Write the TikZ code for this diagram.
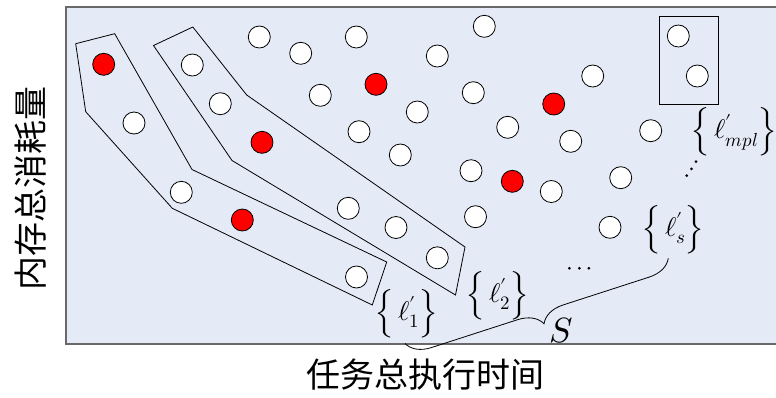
\documentclass[tikz,border=0pt]{standalone}
\usepackage{fontspec}
\usepackage{unicode-math}
\newfontfamily\cjk{Noto Sans CJK SC}
\usetikzlibrary{decorations.pathreplacing}
\definecolor{bgblue}{RGB}{228,235,246}
\definecolor{framegray}{RGB}{105,105,105}
\begin{document}
\begin{tikzpicture}[x=1pt,y=-1pt,
  wc/.style={circle,draw=black,fill=white,minimum size=22pt,inner sep=0pt,line width=0.8pt},
  rc/.style={wc,fill=red},
  grp/.style={draw=black,line width=0.8pt},
  lab/.style={inner sep=0pt,font=\fontsize{27}{32}\selectfont},
  dotc/.style={circle,fill=black,minimum size=3pt,inner sep=0pt},
  axlab/.style={inner sep=0pt,font=\cjk\fontsize{34}{36}\selectfont}]
\useasboundingbox (0,0) rectangle (776,397);
\fill[bgblue] (66,7) rectangle (780,344);
\draw[framegray,line width=1.5pt] (780,7) -- (66,7) -- (66,344) -- (780,344);
% groups
\draw[grp] (75.7,43.7) -- (114.7,33.7) -- (192,169.5) -- (386.7,262) -- (372.3,305) -- (172.3,208.3) -- (85.7,111.7) -- cycle;
\draw[grp] (153.5,45.5) -- (192.8,27) -- (246.7,95) -- (465,247) -- (455.5,295) -- (232,160.5) -- cycle;
\draw[grp] (659.7,16.7) rectangle (718.3,104);
% red circles
\node[rc] (r1) at (103.7,64.3) {};
\node[rc] (r2) at (262,142.3) {};
\node[rc] (r3) at (376,84.3) {};
\node[rc] (r4) at (242.3,220) {};
\node[rc] (r5) at (553.7,104) {};
\node[rc] (r6) at (512.3,181.3) {};
% white circles
\node[wc] (w1) at (134,123) {};
\node[wc] (w2) at (192.3,65) {};
\node[wc] (w3) at (220.3,103.7) {};
\node[wc] (w4) at (259.3,37) {};
\node[wc] (w5) at (300.7,53.3) {};
\node[wc] (w6) at (356.3,37) {};
\node[wc] (w7) at (320.3,95.3) {};
\node[wc] (w8) at (359,131.7) {};
\node[wc] (w9) at (181.3,192.3) {};
\node[wc] (w10) at (348.3,208.3) {};
\node[wc] (w11) at (356.5,277) {};
\node[wc] (w12) at (396,227.5) {};
\node[wc] (w13) at (484.3,26.3) {};
\node[wc] (w14) at (437.3,56) {};
\node[wc] (w15) at (473.3,92.7) {};
\node[wc] (w16) at (417.3,112) {};
\node[wc] (w17) at (400.3,155) {};
\node[wc] (w18) at (507.7,127.3) {};
\node[wc] (w19) at (471,170.7) {};
\node[wc] (w20) at (551.3,191.5) {};
\node[wc] (w21) at (570.7,141.3) {};
\node[wc] (w22) at (592.7,76) {};
\node[wc] (w23) at (650.7,130.7) {};
\node[wc] (w24) at (620.7,177.7) {};
\node[wc] (w25) at (678.3,36) {};
\node[wc] (w26) at (697.3,76) {};
\node[wc] (w27) at (475.5,216.7) {};
\node[wc] (w28) at (610,227.3) {};
\node[wc] (w29) at (437.3,257.8) {};
% dots
\node[dotc] (d1) at (569.3,268.3) {};
\node[dotc] (d2) at (579.3,268.3) {};
\node[dotc] (d3) at (588.8,268.3) {};
\node[dotc] (e1) at (686.7,175.7) {};
\node[dotc] (e2) at (691.5,168.8) {};
\node[dotc] (e3) at (696,161.7) {};
% labels
\node[lab] (l1) at (406.7,314) {$\Big\{\,\ell'_1\Big\}$};
\node[lab] (l2) at (497.5,296) {$\Big\{\,\ell'_2\Big\}$};
\node[lab] (ls) at (673.3,230) {$\Big\{\,\ell'_s\Big\}$};
\node[lab] (lm) at (734,132) {$\Big\{\,\ell'_{mpl}\Big\}$};
\node[inner sep=0pt,font=\fontsize{35}{38}\selectfont] (S) at (561.7,331) {$S$};
% brace
\coordinate (ba) at (405,343.5);
\coordinate (bb) at (668.3,258.3);
\draw[line width=0.8pt,decorate,decoration={brace,mirror,amplitude=24pt}] (ba) -- (bb);
% axis labels
\node[axlab] (xl) at (425,374.5) {任务总执行时间};
\node[axlab,rotate=90] (yl) at (30.8,188.5) {内存总消耗量};
\end{tikzpicture}
\end{document}
